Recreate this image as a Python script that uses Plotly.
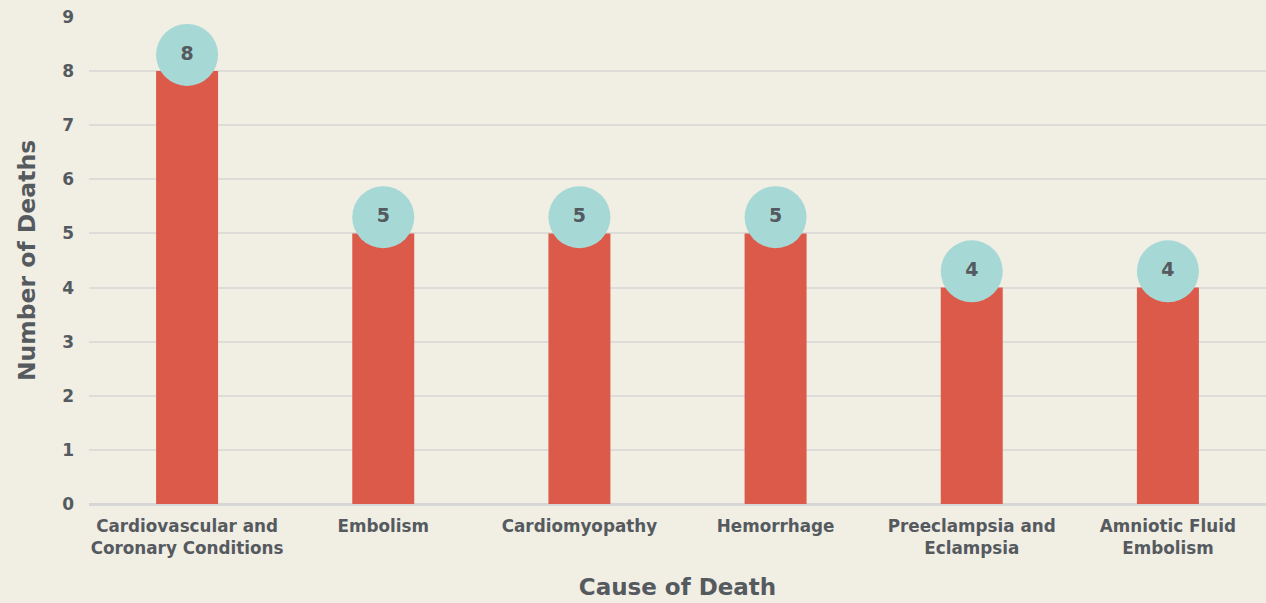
import plotly.graph_objects as go

causes = [
    "Cardiovascular and<br>Coronary Conditions",
    "Embolism",
    "Cardiomyopathy",
    "Hemorrhage",
    "Preeclampsia and<br>Eclampsia",
    "Amniotic Fluid<br>Embolism",
]
deaths = [8, 5, 5, 5, 4, 4]
y_ticks = list(range(0, 10))

bar_color = "#dc5a4a"
badge_color = "#a6d9d6"
text_color = "#555a5f"
bg = "#f1eee4"
font_family = "'DejaVu Sans', Arial, sans-serif"

fig = go.Figure()

fig.add_trace(go.Bar(
    x=causes,
    y=deaths,
    marker=dict(color=bar_color, line=dict(width=0)),
    width=0.316,
    hoverinfo="skip",
))

# value badges sitting on top of each bar
fig.add_trace(go.Scatter(
    x=causes,
    y=[d + 0.3 for d in deaths],
    mode="markers+text",
    marker=dict(size=62, color=badge_color, line=dict(width=0)),
    text=[str(d) for d in deaths],
    textposition="middle center",
    textfont=dict(family=font_family, size=19, color=text_color, weight="bold"),
    hoverinfo="skip",
    cliponaxis=False,
))

fig.update_layout(
    width=1266,
    height=603,
    margin=dict(l=89, r=0, t=17, b=99),
    paper_bgcolor=bg,
    plot_bgcolor=bg,
    showlegend=False,
    font=dict(family=font_family, color=text_color),
    xaxis=dict(
        title=dict(text="Cause of Death", font=dict(size=23, color=text_color, weight="bold"), standoff=22),
        tickfont=dict(size=16.8, color=text_color, weight="bold"),
        showgrid=False,
        showline=False,
        ticks="",
        range=[-0.5, 5.5],
        ticklabelstandoff=10,
    ),
    yaxis=dict(
        title=dict(text="Number of Deaths", font=dict(size=23.5, color=text_color, weight="bold"), standoff=19),
        tickfont=dict(size=17, color=text_color, weight="bold"),
        range=[0, 9],
        tickvals=y_ticks,
        showgrid=True,
        gridcolor="#dedcd8",
        gridwidth=2,
        zeroline=True,
        zerolinecolor="#d6d6d6",
        zerolinewidth=3,
        ticks="",
        ticklabelstandoff=14,
    ),
)

fig.write_html("out.html")
